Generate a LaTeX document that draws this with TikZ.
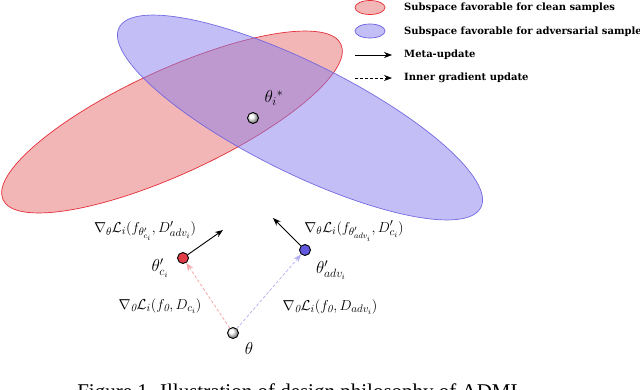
\documentclass[tikz,border=0pt]{standalone}
\usepackage{fontspec}
\newfontfamily\capfont{Liberation Serif}
\newfontfamily\legfont{DejaVu Serif}
\usetikzlibrary{arrows.meta}
\definecolor{redfill}{RGB}{232,110,110}
\definecolor{redline}{RGB}{228,45,55}
\definecolor{bluefill}{RGB}{135,125,235}
\definecolor{blueline}{RGB}{105,95,225}
\definecolor{reddot}{RGB}{226,62,72}
\definecolor{bluedot}{RGB}{98,88,222}
\definecolor{pinkdash}{RGB}{246,165,170}
\definecolor{lavdash}{RGB}{178,172,242}
\tikzset{
  dotnode/.style={circle,draw=black,line width=0.9pt,minimum size=11pt,inner sep=0pt},
  meta/.style={-{Stealth[length=8pt,width=6pt]},line width=0.9pt,black},
  inner/.style={-{Stealth[length=8pt,width=6pt]},line width=0.7pt,dashed,dash pattern=on 3pt off 2pt},
  biglab/.style={font=\fontsize{17}{20}\selectfont,inner sep=0pt},
  gradlab/.style={font=\fontsize{15.5}{18}\selectfont,inner sep=0pt},
  legtext/.style={font=\legfont\fontsize{10}{12}\selectfont\bfseries,anchor=west,inner sep=0pt},
}
\begin{document}
\begin{tikzpicture}[x=1pt,y=-1pt]
\useasboundingbox (0,0) rectangle (640,389);
% subspaces
\fill[redfill,fill opacity=0.5] (172,122) ellipse[x radius=186pt,y radius=52pt,rotate=24.7];
\draw[redline,line width=0.7pt] (172,122) ellipse[x radius=186pt,y radius=52pt,rotate=24.7];
\fill[bluefill,fill opacity=0.5] (300,117.5) ellipse[x radius=202pt,y radius=55pt,rotate=-26.4];
\draw[blueline,line width=0.7pt,draw opacity=0.9] (300,117.5) ellipse[x radius=202pt,y radius=55pt,rotate=-26.4];
% legend
\fill[redfill,fill opacity=0.5] (370,7.5) ellipse[x radius=15pt,y radius=7pt];
\draw[redline,line width=0.7pt] (370,7.5) ellipse[x radius=15pt,y radius=7pt];
\fill[bluefill,fill opacity=0.5] (370,31) ellipse[x radius=15pt,y radius=7pt];
\draw[blueline,line width=0.7pt] (370,31) ellipse[x radius=15pt,y radius=7pt];
\coordinate (m1) at (355,55); \coordinate (m2) at (392,55);
\coordinate (i1) at (355,78); \coordinate (i2) at (392,78);
\draw[meta,line width=0.7pt] (m1) -- (m2);
\draw[inner,black] (i1) -- (i2);
\node[legtext] (l1) at (404,8) {Subspace favorable for clean samples};
\node[legtext] (l2) at (404,32) {Subspace favorable for adversarial samples};
\node[legtext] (l3) at (404,55) {Meta-update};
\node[legtext] (l4) at (404,78) {Inner gradient update};
% points
\node[dotnode,ball color=white,shading=ball] (star) at (253,118) {};
\node[biglab] (starlab) at (274,98) {$\theta_i{}^{*}$};
\node[dotnode,fill=reddot] (c) at (183,258) {};
\node[dotnode,fill=bluedot] (adv) at (305,250) {};
\node[dotnode,ball color=white,shading=ball] (th) at (233,333) {};
\node[biglab] (thlab) at (249,348) {$\theta$};
\node[biglab] (clab) at (160,268) {$\theta'_{c_i}$};
\node[biglab] (advlab) at (331,270) {$\theta'_{adv_i}$};
% meta arrows
\coordinate (ct) at (223,230);
\coordinate (at) at (273,218);
\draw[meta] (c) -- (ct);
\draw[meta] (adv) -- (at);
% inner arrows
\draw[inner,pinkdash] (th) -- (c);
\draw[inner,lavdash] (th) -- (adv);
% gradient labels
\node[gradlab] (g1) at (145,231) {$\nabla_{\theta}\mathcal{L}_i(f_{\theta'_{c_i}},D'_{adv_i})$};
\node[gradlab] (g2) at (354,231) {$\nabla_{\theta}\mathcal{L}_i(f_{\theta'_{adv_i}},D'_{c_i})$};
\node[gradlab] (g3) at (160,306) {$\nabla_{\mathit{0}}\mathcal{L}_i(f_{\mathit{0}},D_{c_i})$};
\node[gradlab] (g4) at (330,307) {$\nabla_{\mathit{0}}\mathcal{L}_i(f_{\mathit{0}},D_{adv_i})$};
% caption (cut off by the frame)
\node[font=\capfont\fontsize{21}{24}\selectfont,anchor=base,inner sep=0pt] (cap) at (303,398) {Figure 1. Illustration of design philosophy of ADML.};
\end{tikzpicture}
\end{document}
